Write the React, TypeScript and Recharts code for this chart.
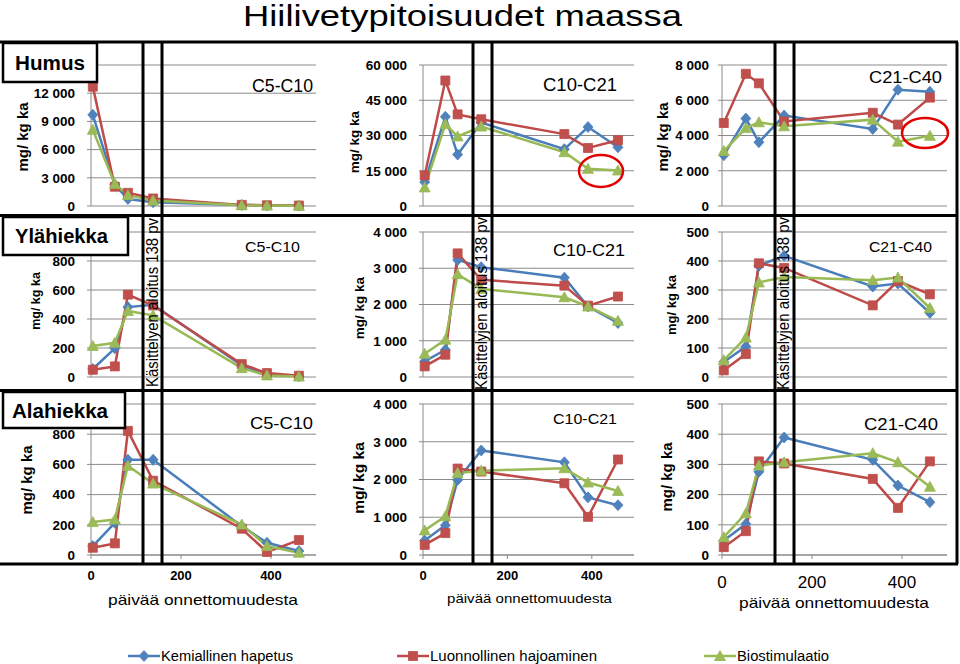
import React from 'react'
import { LineChart, Line, XAxis, YAxis, CartesianGrid } from 'recharts'

const FONT = '"Liberation Sans", Arial, sans-serif'
const GRID = '#8a8a8a'

// sampling days (days after the accident)
const days = [4, 53, 82, 138, 335, 391, 462]
const xTicks = [0, 200, 400]

const seriesKeys = ['kem', 'luon', 'bio']
const seriesNames = ['Kemiallinen hapetus', 'Luonnollinen hajoaminen', 'Biostimulaatio']
const lineColors = ['#4A7EBB', '#BE4B48', '#98B954']
const markerFills = ['#4F81BD', '#C0504D', '#9BBB59']
const markerShapes = ['diamond', 'square', 'triangle']

const soilLabels = ['Humus', 'Ylähiekka', 'Alahiekka']
const fractionLabels = ['C5-C10', 'C10-C21', 'C21-C40']

// Humus
const humusC5Kem = [9700, 2250, 750, 400, 100, 60, 40]
const humusC5Luon = [12700, 2050, 1400, 800, 120, 80, 50]
const humusC5Bio = [8100, 2350, 1150, 580, 80, 50, 30]
const humusC10Kem = [10200, 38000, 21900, 35500, 24200, 33600, 25000]
const humusC10Luon = [13000, 53400, 39000, 36900, 30600, 24700, 28000]
const humusC10Bio = [7900, 34800, 29600, 33800, 22900, 15800, 15100]
const humusC21Kem = [2880, 4960, 3620, 5130, 4370, 6600, 6480]
const humusC21Luon = [4710, 7500, 6960, 4800, 5290, 4620, 6150]
const humusC21Bio = [3120, 4420, 4750, 4520, 4900, 3650, 3980]

// Ylähiekka
const ylaC5Kem = [55, 198, 482, 498, 80, 20, 5]
const ylaC5Luon = [50, 73, 568, 493, 89, 27, 9]
const ylaC5Bio = [214, 236, 455, 425, 61, 11, 3]
const ylaC10Kem = [430, 750, 3230, 3030, 2740, 1945, 1490]
const ylaC10Luon = [293, 615, 3410, 2680, 2520, 1970, 2220]
const ylaC10Bio = [640, 1030, 2835, 2430, 2200, 1945, 1550]
const ylaC21Kem = [52, 105, 384, 418, 312, 322, 221]
const ylaC21Luon = [23, 79, 392, 376, 247, 331, 285]
const ylaC21Bio = [58, 136, 326, 345, 334, 343, 238]

// Alahiekka
const alaC5Kem = [59, 213, 631, 631, 191, 81, 26]
const alaC5Luon = [48, 77, 822, 492, 174, 20, 99]
const alaC5Bio = [218, 235, 591, 473, 202, 59, 15]
const alaC10Kem = [384, 786, 1990, 2770, 2455, 1527, 1320]
const alaC10Luon = [268, 580, 2290, 2210, 1900, 1010, 2530]
const alaC10Bio = [652, 1027, 2170, 2232, 2300, 1920, 1696]
const alaC21Kem = [48, 103, 276, 389, 315, 230, 175]
const alaC21Luon = [26, 79, 310, 303, 252, 156, 310]
const alaC21Bio = [59, 138, 296, 307, 337, 307, 226]

const humusC5Ticks = [0, 3000, 6000, 9000, 12000, 15000]
const humusC10Ticks = [0, 15000, 30000, 45000, 60000]
const humusC21Ticks = [0, 2000, 4000, 6000, 8000]
const sandC5Ticks = [0, 200, 400, 600, 800, 1000]
const sandC10Ticks = [0, 1000, 2000, 3000, 4000]
const sandC21Ticks = [0, 100, 200, 300, 400, 500]

const panels = [
  { row: 0, col: 0, series: [humusC5Kem, humusC5Luon, humusC5Bio], yTicks: humusC5Ticks },
  { row: 0, col: 1, series: [humusC10Kem, humusC10Luon, humusC10Bio], yTicks: humusC10Ticks },
  { row: 0, col: 2, series: [humusC21Kem, humusC21Luon, humusC21Bio], yTicks: humusC21Ticks },
  { row: 1, col: 0, series: [ylaC5Kem, ylaC5Luon, ylaC5Bio], yTicks: sandC5Ticks },
  { row: 1, col: 1, series: [ylaC10Kem, ylaC10Luon, ylaC10Bio], yTicks: sandC10Ticks },
  { row: 1, col: 2, series: [ylaC21Kem, ylaC21Luon, ylaC21Bio], yTicks: sandC21Ticks },
  { row: 2, col: 0, series: [alaC5Kem, alaC5Luon, alaC5Bio], yTicks: sandC5Ticks },
  { row: 2, col: 1, series: [alaC10Kem, alaC10Luon, alaC10Bio], yTicks: sandC10Ticks },
  { row: 2, col: 2, series: [alaC21Kem, alaC21Luon, alaC21Bio], yTicks: sandC21Ticks },
]

// plot area geometry (layout only)
const colPlot = [[91, 316], [423, 634], [722, 947]]
const rowPlot = [[65, 206], [232, 377], [404, 555]]

// fraction title: x, baseline, length, size
const fracPos = [
  [[252, 92, 61, 18], [543, 91, 74, 18], [869, 83, 73, 17]],
  [[245, 252, 55, 15], [553, 256, 72, 17], [869, 252, 63, 15.5]],
  [[250, 429, 63, 16.5], [553, 424, 64, 15.5], [864, 430, 74, 16.5]],
]
// y label: baseline x, center y, size
const yLabelPos = [
  [[28, 137, 15], [359, 142, 13.5], [668, 137, 15]],
  [[40, 301, 12.5], [364, 308, 13.5], [676, 305, 13]],
  [[32, 480, 15], [364, 478, 15.5], [672, 477, 15]],
]

const fmt = (v: number) =>
  v >= 1000 ? `${Math.floor(v / 1000)} ${String(v % 1000).padStart(3, '0')}` : String(v)

function markerPath(shape: string, cx: number, cy: number) {
  if (shape === 'diamond') return `M${cx},${cy - 5.5}L${cx + 5},${cy}L${cx},${cy + 5.5}L${cx - 5},${cy}Z`
  if (shape === 'square') return `M${cx - 4.5},${cy - 4.5}h9v9h-9Z`
  return `M${cx},${cy - 5.5}L${cx + 5.5},${cy + 4.5}L${cx - 5.5},${cy + 4.5}Z`
}

function makeDot(i: number) {
  return (p: any) => {
    const { cx, cy, index } = p
    if (cx == null || cy == null) return <g key={index} />
    return (
      <path
        key={index}
        d={markerPath(markerShapes[i], cx, cy)}
        fill={markerFills[i]}
        stroke={lineColors[i]}
        strokeWidth={0.8}
      />
    )
  }
}

function Panel({ row, col, series, yTicks }: { row: number; col: number; series: number[][]; yTicks: number[] }) {
  const [pl, pr] = colPlot[col]
  const [pt, pb] = rowPlot[row]
  const YW = 70, MT = 10, MR = 10
  const bottom = row === 2
  const XH = bottom ? 40 : 0
  const MB = bottom ? 4 : 8
  const top = yTicks[yTicks.length - 1]
  // in the first column the top label sits under the soil box
  const yFmt = (v: number) => (col === 0 && v === top ? '' : fmt(v))
  const data = days.map((day, i) => ({ day, kem: series[0][i], luon: series[1][i], bio: series[2][i] }))
  const xTick = col === 2
    ? { fontSize: 17, fontWeight: 400, fill: '#000', fontFamily: FONT }
    : { fontSize: 13, fontWeight: 700, fill: '#000', fontFamily: FONT }
  return (
    <div style={{ position: 'absolute', left: pl - YW, top: pt - MT }}>
      <LineChart
        width={YW + pr - pl + MR}
        height={MT + pb - pt + XH + MB}
        data={data}
        margin={{ top: MT, right: MR, bottom: MB, left: 0 }}
      >
        <CartesianGrid vertical={false} stroke={GRID} />
        <XAxis
          type="number"
          dataKey="day"
          domain={[0, 500]}
          ticks={xTicks}
          interval={0}
          hide={!bottom}
          height={XH}
          axisLine={{ stroke: GRID }}
          tickLine={{ stroke: GRID }}
          tickSize={4}
          tickMargin={col === 2 ? 17 : 12}
          tick={xTick}
        />
        <YAxis
          width={YW}
          domain={[0, top]}
          ticks={yTicks}
          interval={0}
          tickFormatter={yFmt}
          axisLine={{ stroke: GRID }}
          tickLine={{ stroke: GRID }}
          tickSize={4}
          tickMargin={col === 2 ? 9 : 12}
          tick={{ fontSize: 13.5, fontWeight: 700, fill: '#000', fontFamily: FONT }}
        />
        {seriesKeys.map((k, i) => (
          <Line
            key={k}
            type="linear"
            dataKey={k}
            name={seriesNames[i]}
            stroke={lineColors[i]}
            strokeWidth={2.5}
            dot={makeDot(i)}
            activeDot={false}
            isAnimationActive={false}
          />
        ))}
      </LineChart>
    </div>
  )
}

const legendX = [128, 397, 704]
const legendLen = [132, 167, 92]
const markerLinesX = [[143, 162], [473, 492], [775, 794]]
const startLabels = ['Käsittelyen aloitus 138 pv', 'Käsittelyjen aloitus 138 pv', 'Käsittelyjen aloitus 138 pv']
const startLabelPos = [[158, 387, 169], [487, 390, 173], [789, 390, 173]]
const xTitlePos = [[108, 605, 190, 15], [447, 603, 165, 13.5], [739, 608, 190, 15]]

export default function App() {
  return (
    <div style={{ position: 'absolute', left: 0, top: 0, width: 960, height: 664, background: '#fff', fontFamily: FONT, overflow: 'hidden' }}>
      {panels.map((p) => (
        <Panel key={`${p.row}-${p.col}`} {...p} />
      ))}
      <svg width={960} height={664} style={{ position: 'absolute', left: 0, top: 0, pointerEvents: 'none' }} fontFamily={FONT}>
        <text x={243} y={26} fontSize={29} textLength={439} lengthAdjust="spacingAndGlyphs" fill="#000">
          Hiilivetypitoisuudet maassa
        </text>

        {[42, 215.5, 390.5, 564].map((y) => (
          <line key={y} x1={0} x2={958} y1={y} y2={y} stroke="#000" strokeWidth={3} />
        ))}
        <line x1={957} x2={957} y1={42} y2={564} stroke="#000" strokeWidth={3} />
        {markerLinesX.flat().map((x) => (
          <line key={x} x1={x} x2={x} y1={42} y2={564} stroke="#000" strokeWidth={3} />
        ))}

        {startLabels.map((t, c) => {
          const [bx, by, len] = startLabelPos[c]
          return (
            <text key={c} transform={`translate(${bx},${by}) rotate(-90)`} fontSize={16} textLength={len} lengthAdjust="spacingAndGlyphs" fill="#000">
              {t}
            </text>
          )
        })}

        {fracPos.map((r, ri) =>
          r.map(([x, y, len, size], ci) => (
            <text key={`f${ri}${ci}`} x={x} y={y} fontSize={size} textLength={len} lengthAdjust="spacingAndGlyphs" fill="#000">
              {fractionLabels[ci]}
            </text>
          )),
        )}

        {yLabelPos.map((r, ri) =>
          r.map(([x, y, size], ci) => (
            <text key={`y${ri}${ci}`} transform={`translate(${x},${y}) rotate(-90)`} textAnchor="middle" fontSize={size} fontWeight={700} fill="#000">
              mg/ kg ka
            </text>
          )),
        )}

        {xTitlePos.map(([x, y, len, size], c) => (
          <text key={`x${c}`} x={x} y={y} fontSize={size} textLength={len} lengthAdjust="spacingAndGlyphs" fill="#000">
            päivää onnettomuudesta
          </text>
        ))}

        <ellipse cx={601} cy={171} rx={22} ry={16} fill="none" stroke="#E30000" strokeWidth={2.5} />
        <ellipse cx={925} cy={133} rx={23} ry={15} fill="none" stroke="#E30000" strokeWidth={2.5} />

        {/* soil boxes */}
        <rect x={3} y={43} width={94} height={39} fill="#fff" stroke="#000" strokeWidth={2.5} />
        <text x={15} y={70} fontSize={20} fontWeight={700} textLength={70} lengthAdjust="spacingAndGlyphs">{soilLabels[0]}</text>
        <rect x={3} y={217} width={125} height={38} fill="#fff" stroke="#000" strokeWidth={2.5} />
        <text x={15} y={243} fontSize={20} fontWeight={700} textLength={93} lengthAdjust="spacingAndGlyphs">{soilLabels[1]}</text>
        <rect x={3} y={392} width={122} height={36} fill="#fff" stroke="#000" strokeWidth={2.5} />
        <text x={12} y={418} fontSize={20} fontWeight={700} textLength={96} lengthAdjust="spacingAndGlyphs">{soilLabels[2]}</text>

        {/* legend */}
        {seriesNames.map((n, i) => {
          const lx = legendX[i]
          return (
            <g key={n}>
              <line x1={lx} x2={lx + 32} y1={656} y2={656} stroke={lineColors[i]} strokeWidth={2.5} />
              <path d={markerPath(markerShapes[i], lx + 16, 656)} fill={markerFills[i]} stroke={lineColors[i]} strokeWidth={0.8} />
              <text x={lx + 33} y={661} fontSize={14} textLength={legendLen[i]} lengthAdjust="spacingAndGlyphs" fill="#000">
                {n}
              </text>
            </g>
          )
        })}
      </svg>
    </div>
  )
}
